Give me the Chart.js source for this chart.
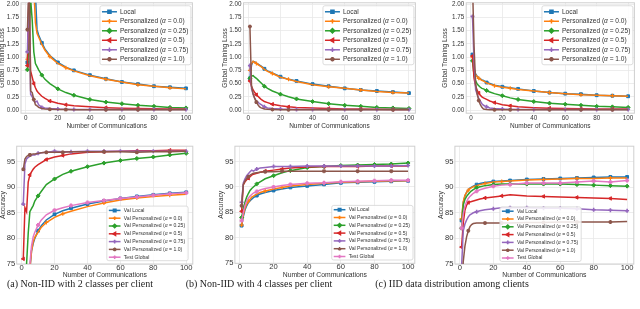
<!DOCTYPE html>
<html>
<head>
<meta charset="utf-8">
<script src="https://cdn.jsdelivr.net/npm/chart.js@4.4.0/dist/chart.umd.min.js"></script>
<style>
  body { margin: 0; background: #fff; width: 640px; height: 309px; overflow: hidden; position: relative; }
  canvas { position: absolute; }
  .cap { position: absolute; top: 278px; font-family: "Liberation Serif", "DejaVu Serif", serif; font-size: 10px; color: #222; white-space: nowrap; transform: translateX(-50%); }
</style>
</head>
<body>
<canvas id="lossA"></canvas>
<canvas id="lossB"></canvas>
<canvas id="lossC"></canvas>
<canvas id="accA"></canvas>
<canvas id="accB"></canvas>
<canvas id="accC"></canvas>
<div class="cap" style="left:80px">(a) Non-IID with 2 classes per client</div>
<div class="cap" style="left:259px">(b) Non-IID with 4 classes per client</div>
<div class="cap" style="left:452px">(c) IID data distribution among clients</div>
<script>
const commRounds = [1, 2, 3, 4, 5, 6, 7, 8, 10, 12, 15, 20, 25, 30, 40, 50, 60, 70, 80, 90, 100];

// (a) non-IID, 2 classes per client : global training loss
const lossA_local = [0.90, 1.80, 2.60, 2.60, 2.40, 2.20, 1.52, 1.42, 1.27, 1.15, 1.03, 0.90, 0.81, 0.75, 0.66, 0.59, 0.53, 0.49, 0.45, 0.43, 0.41];
const lossA_p00   = [0.96, 1.80, 2.60, 2.50, 2.30, 1.65, 1.45, 1.38, 1.24, 1.13, 1.01, 0.88, 0.80, 0.74, 0.65, 0.58, 0.53, 0.48, 0.45, 0.42, 0.40];
const lossA_p025  = [0.76, 1.30, 2.10, 1.70, 1.10, 0.88, 0.82, 0.76, 0.66, 0.58, 0.50, 0.40, 0.33, 0.28, 0.20, 0.15, 0.12, 0.09, 0.07, 0.05, 0.04];
const lossA_p05   = [0.84, 2.30, 0.74, 0.62, 0.50, 0.42, 0.36, 0.32, 0.26, 0.22, 0.17, 0.13, 0.10, 0.08, 0.06, 0.045, 0.035, 0.03, 0.025, 0.02, 0.02];
const lossA_p075  = [1.10, 2.30, 0.30, 0.25, 0.18, 0.15, 0.17, 0.10, 0.05, 0.04, 0.03, 0.02, 0.015, 0.01, 0.01, 0.01, 0.01, 0.01, 0.01, 0.01, 0.01];
const lossA_p10   = [1.52, 2.40, 0.36, 0.33, 0.20, 0.10, 0.08, 0.05, 0.03, 0.02, 0.015, 0.01, 0.008, 0.006, 0.005, 0.005, 0.005, 0.005, 0.005, 0.005, 0.005];

// (b) non-IID, 4 classes per client : global training loss
const lossB_local = [0.60, 0.85, 0.92, 0.91, 0.89, 0.87, 0.85, 0.83, 0.78, 0.74, 0.70, 0.63, 0.58, 0.55, 0.49, 0.45, 0.41, 0.38, 0.36, 0.34, 0.32];
const lossB_p00   = [0.75, 0.88, 0.92, 0.90, 0.88, 0.86, 0.84, 0.82, 0.77, 0.73, 0.69, 0.62, 0.58, 0.54, 0.48, 0.44, 0.41, 0.38, 0.35, 0.33, 0.32];
const lossB_p025  = [0.60, 0.64, 0.65, 0.62, 0.60, 0.57, 0.54, 0.51, 0.45, 0.41, 0.36, 0.30, 0.25, 0.21, 0.16, 0.12, 0.09, 0.07, 0.05, 0.04, 0.03];
const lossB_p05   = [0.55, 0.45, 0.38, 0.33, 0.29, 0.26, 0.23, 0.20, 0.16, 0.14, 0.11, 0.08, 0.06, 0.05, 0.04, 0.03, 0.02, 0.02, 0.015, 0.01, 0.01];
const lossB_p075  = [0.84, 0.40, 0.30, 0.22, 0.17, 0.15, 0.12, 0.10, 0.06, 0.04, 0.03, 0.02, 0.015, 0.01, 0.01, 0.01, 0.01, 0.01, 0.01, 0.01, 0.01];
const lossB_p10   = [1.58, 0.45, 0.30, 0.22, 0.15, 0.10, 0.06, 0.04, 0.02, 0.015, 0.01, 0.005, 0.005, 0.005, 0.005, 0.005, 0.005, 0.005, 0.005, 0.005, 0.005];

// (c) IID : global training loss
const lossC_local = [1.05, 0.78, 0.68, 0.64, 0.61, 0.59, 0.57, 0.56, 0.52, 0.50, 0.47, 0.44, 0.42, 0.40, 0.36, 0.33, 0.31, 0.30, 0.28, 0.27, 0.26];
const lossC_p00   = [1.00, 0.76, 0.67, 0.63, 0.60, 0.58, 0.56, 0.55, 0.51, 0.49, 0.46, 0.43, 0.41, 0.39, 0.36, 0.33, 0.31, 0.29, 0.28, 0.27, 0.26];
const lossC_p025  = [0.93, 0.65, 0.55, 0.49, 0.46, 0.43, 0.41, 0.40, 0.37, 0.34, 0.31, 0.27, 0.23, 0.20, 0.16, 0.13, 0.11, 0.09, 0.07, 0.06, 0.05];
const lossC_p05   = [1.02, 0.60, 0.45, 0.37, 0.32, 0.28, 0.25, 0.23, 0.20, 0.17, 0.14, 0.10, 0.08, 0.06, 0.045, 0.035, 0.03, 0.025, 0.02, 0.02, 0.02];
const lossC_p075  = [1.77, 0.90, 0.38, 0.30, 0.22, 0.17, 0.12, 0.09, 0.06, 0.04, 0.03, 0.02, 0.015, 0.01, 0.01, 0.01, 0.01, 0.01, 0.01, 0.01, 0.01];
const lossC_p10   = [2.40, 1.20, 0.50, 0.30, 0.18, 0.10, 0.05, 0.02, 0.01, 0.005, 0.005, 0.005, 0.005, 0.005, 0.005, 0.005, 0.005, 0.005, 0.005, 0.005, 0.005];

// (a) accuracy
const accA_local  = [65, 68, 70, 72, 74, 77.5, 79, 80, 81.5, 82.5, 83.6, 84.7, 85.4, 85.9, 86.7, 87.3, 87.8, 88.2, 88.5, 88.8, 89.0];
const accA_p00    = [65, 68, 70, 72, 74, 77.5, 79.3, 80.2, 81.2, 82.2, 83.1, 84.1, 84.8, 85.3, 86.2, 86.9, 87.5, 87.9, 88.2, 88.4, 88.6];
const accA_p025   = [70, 72, 75, 81, 85.2, 85.8, 86.4, 87.3, 88.3, 89.2, 90.5, 91.6, 92.5, 93.1, 94.0, 94.7, 95.2, 95.6, 95.9, 96.3, 96.6];
const accA_p05    = [76, 86, 85.2, 91, 92.4, 93, 93.5, 93.9, 94.4, 94.8, 95.4, 95.9, 96.2, 96.5, 96.8, 96.9, 97.0, 97.1, 97.1, 97.2, 97.2];
const accA_p075   = [86.7, 94.5, 95.5, 95.8, 96, 96.2, 96.3, 96.3, 96.6, 96.7, 96.8, 97.0, 96.9, 96.9, 97.0, 97.0, 97.0, 97.0, 97.0, 97.0, 97.0];
const accA_p10    = [93.5, 95.5, 96, 96.2, 96.3, 96.4, 96.5, 96.5, 96.6, 96.7, 96.8, 96.8, 96.8, 96.9, 96.9, 96.9, 96.9, 96.8, 96.9, 96.9, 97.0];
const accA_test   = [65, 68, 70, 72.5, 75, 78.5, 80.3, 81.2, 82.6, 83.6, 84.6, 85.5, 86.0, 86.4, 87.0, 87.4, 87.8, 88.1, 88.4, 88.7, 88.9];

// (b) accuracy
const accB_local  = [82.4, 84.2, 85.5, 86.3, 86.9, 87.3, 87.6, 87.9, 88.3, 88.6, 88.9, 89.3, 89.6, 89.9, 90.2, 90.5, 90.8, 90.9, 91.0, 91.1, 91.2];
const accB_p00    = [82.5, 84.5, 85.8, 86.6, 87.2, 87.6, 88.0, 88.2, 88.6, 88.9, 89.2, 89.6, 89.9, 90.2, 90.5, 90.7, 90.9, 91.0, 91.1, 91.2, 91.2];
const accB_p025   = [84, 85.8, 87, 88, 88.7, 89.3, 89.7, 90, 90.6, 91, 91.6, 92.2, 92.8, 93.2, 93.8, 94.0, 94.2, 94.3, 94.4, 94.5, 94.7];
const accB_p05    = [85.2, 90.4, 91, 91.4, 91.7, 92, 92.3, 92.5, 92.7, 92.9, 93.1, 93.3, 93.5, 93.7, 93.9, 94.0, 94.0, 94.0, 94.1, 94.1, 94.1];
const accB_p075   = [87, 90.8, 91.6, 92.2, 92.6, 93, 93.3, 93.1, 93.5, 93.7, 93.8, 94.0, 94.0, 94.0, 94.1, 94.1, 94.1, 94.1, 94.1, 94.1, 94.2];
const accB_p10    = [86.3, 90.5, 91.2, 91.7, 92, 92.3, 92.5, 92.7, 92.8, 92.9, 93.0, 93.0, 93.1, 93.1, 93.1, 93.1, 93.1, 93.1, 93.1, 93.1, 93.1];
const accB_test   = [83.4, 85, 86.3, 87.2, 87.8, 88.2, 88.5, 88.8, 89.1, 89.4, 89.7, 90.0, 90.3, 90.5, 90.7, 90.8, 91.0, 91.1, 91.2, 91.3, 91.3];

// (c) accuracy
const accC_local  = [83.5, 87, 88.3, 89, 89.5, 89.8, 90, 90.2, 90.5, 90.7, 90.9, 91.1, 91.2, 91.3, 91.5, 91.6, 91.7, 91.8, 91.9, 92.0, 92.0];
const accC_p00    = [83.8, 87.2, 88.4, 89, 89.4, 89.7, 89.9, 90.1, 90.3, 90.5, 90.7, 91.0, 91.1, 91.2, 91.4, 91.5, 91.6, 91.7, 91.7, 91.8, 91.8];
const accC_p025   = [82, 86.5, 87.6, 88.2, 88.6, 89, 89.3, 89.5, 89.9, 90.1, 90.3, 90.5, 90.6, 90.6, 90.6, 90.6, 90.6, 90.5, 90.4, 90.3, 90.2];
const accC_p05    = [78.3, 83, 85.5, 86.5, 87, 87.1, 87.2, 87.3, 87.5, 87.7, 87.9, 88.1, 88.3, 88.5, 88.3, 88.2, 88.1, 88.0, 87.9, 87.8, 87.6];
const accC_p075   = [74.5, 81.5, 82.8, 83.6, 84.2, 84.6, 84.8, 85, 85.2, 85.4, 85.6, 85.8, 86.0, 86.0, 86.0, 85.9, 85.9, 85.8, 85.6, 85.5, 85.4];
const accC_p10    = [70, 75.5, 78.5, 80.3, 81.5, 82.3, 82.7, 82.9, 83, 83, 83, 83, 83, 83, 83.1, 83.1, 83.2, 83.2, 83.2, 83.2, 83.3];
const accC_test   = [82, 84.8, 86.3, 87.2, 87.8, 88.2, 88.5, 88.8, 89.2, 89.5, 89.8, 90.2, 90.4, 90.5, 90.8, 90.8, 90.8, 91.0, 91.2, 91.0, 91.3];

const lossLabels = ['Local', 'Personalized (α = 0.0)', 'Personalized (α = 0.25)', 'Personalized (α = 0.5)', 'Personalized (α = 0.75)', 'Personalized (α = 1.0)'];
const accLabels = ['Val Local', 'Val Personalized (α = 0.0)', 'Val Personalized (α = 0.25)', 'Val Personalized (α = 0.5)', 'Val Personalized (α = 0.75)', 'Val Personalized (α = 1.0)', 'Test Global'];
const roundTicks = [0, 20, 40, 60, 80, 100];
const lossTicks = [0, 0.25, 0.5, 0.75, 1.0, 1.25, 1.5, 1.75, 2.0];
const accTicks = [75, 80, 85, 90, 95];

const palette = ['#1f77b4', '#ff7f0e', '#2ca02c', '#d62728', '#9467bd', '#8c564b', '#e377c2'];
const markers = ['rect', 'cross', 'rectRot', 'triangle', 'cross', 'star', 'cross'];
const markerRot = [0, 0, 0, -90, 0, 0, 0];
const markerBw = [1, 1.2, 1, 1, 1.6, 1.1, 2.2];
const markIdxA = [0, 8, 11, 13, 14, 15, 16, 17, 18, 19, 20];
const markIdxB = [0, 4, 10, 12, 15, 17, 19];

const FONT = '"Liberation Sans", Arial, sans-serif';
Chart.defaults.font.family = FONT;
Chart.defaults.color = '#333';

function labelParts(label) {
  const i = label.indexOf('α');
  if (i < 0) return [[label, false]];
  return [[label.slice(0, i), false], ['α', true], [label.slice(i + 1), false]];
}

function partFont(size, italic) {
  return (italic ? 'italic ' : '') + size + 'px ' + FONT;
}

const frameBox = {
  id: 'frameBox',
  beforeDatasetsDraw(chart) {
    const { ctx, chartArea: a } = chart;
    ctx.save();
    ctx.strokeStyle = '#cfcfcf';
    ctx.lineWidth = 1;
    ctx.strokeRect(a.left, a.top, a.right - a.left, a.bottom - a.top);
    ctx.restore();
  }
};

const boxLegend = {
  id: 'boxLegend',
  afterDraw(chart, args, o) {
    const { ctx, chartArea: a } = chart;
    const items = chart.data.datasets;
    ctx.save();
    let textW = 0;
    items.forEach(d => {
      let w = 0;
      labelParts(d.label).forEach(([t, it]) => { ctx.font = partFont(o.fontSize, it); w += ctx.measureText(t).width; });
      textW = Math.max(textW, w);
    });
    const w = o.padL + o.lineLen + o.gap + textW + o.padR;
    const h = o.padT + (items.length - 1) * o.rowH + o.padB;
    const x = o.left != null ? a.left + o.left : a.right - o.right - w;
    const y = o.top != null ? a.top + o.top : a.bottom - o.bottom - h;
    ctx.fillStyle = 'rgba(255,255,255,0.85)';
    ctx.strokeStyle = '#d4d4d4';
    ctx.lineWidth = 0.8;
    ctx.beginPath();
    ctx.roundRect(x, y, w, h, 2);
    ctx.fill();
    ctx.stroke();
    items.forEach((d, i) => {
      const cy = y + o.padT + i * o.rowH;
      const x0 = x + o.padL;
      ctx.strokeStyle = d.borderColor;
      ctx.fillStyle = d.borderColor;
      ctx.lineWidth = 1.5;
      ctx.beginPath();
      ctx.moveTo(x0, cy);
      ctx.lineTo(x0 + o.lineLen, cy);
      ctx.stroke();
      Chart.helpers.drawPoint(ctx, { pointStyle: d.pointStyle, rotation: d.pointRotation, radius: o.markR, borderWidth: d.pointBorderWidth }, x0 + o.lineLen / 2, cy);
      let tx = x0 + o.lineLen + o.gap;
      ctx.fillStyle = '#333';
      ctx.textBaseline = 'middle';
      labelParts(d.label).forEach(([t, it]) => {
        ctx.font = partFont(o.fontSize, it);
        ctx.fillText(t, tx, cy);
        tx += ctx.measureText(t).width;
      });
    });
    ctx.restore();
  }
};

function makeSeries(valueLists, labels) {
  return valueLists.map((vals, i) => ({
    label: labels[i],
    data: commRounds.map((r, k) => ({ x: r, y: vals[k] })),
    borderColor: palette[i],
    backgroundColor: palette[i],
    borderWidth: 1.5,
    pointStyle: markers[i],
    pointRotation: markerRot[i],
    pointBorderWidth: markerBw[i],
    pointRadius: c => ((i % 2 ? markIdxB : markIdxA).includes(c.dataIndex) ? 2 : 0),
    tension: 0,
    order: labels.length - i
  }));
}

// p: page geometry of the plot frame; canvas left/top (cl, ct) are whole pixels
function makePanel(id, p, valueLists, labels, yTicks, yMin, yMax, yTitle, fmt, legend) {
  const cv = document.getElementById(id);
  const cw = p.cr - p.cl, ch = p.cb - p.ct;
  cv.width = cw; cv.height = ch;
  cv.style.left = p.cl + 'px';
  cv.style.top = p.ct + 'px';
  const yW = p.L - p.cl, xH = p.cb - p.B;
  new Chart(cv, {
    type: 'line',
    data: { datasets: makeSeries(valueLists, labels) },
    options: {
      responsive: false,
      animation: false,
      events: [],
      layout: { padding: { left: 0, top: p.T - p.ct, right: p.cr - p.R, bottom: 0 } },
      plugins: { legend: { display: false }, tooltip: { enabled: false }, boxLegend: legend },
      scales: {
        x: {
          type: 'linear', min: -3, max: 104,
          afterBuildTicks: s => { s.ticks = roundTicks.map(v => ({ value: v })); },
          afterFit: s => { s.height = xH; },
          ticks: { font: { size: p.tickSize }, padding: p.xPad, maxRotation: 0, color: '#333' },
          grid: { color: '#e9e9e9', lineWidth: 0.8, drawTicks: false },
          border: { display: false },
          title: { display: true, text: 'Number of Communications', font: { size: p.titleSize }, padding: { top: 0, bottom: 0 }, color: '#333' }
        },
        y: {
          type: 'linear', min: yMin, max: yMax,
          afterBuildTicks: s => { s.ticks = yTicks.map(v => ({ value: v })); },
          afterFit: s => { s.width = yW; },
          ticks: { font: { size: p.tickSize }, padding: p.yPad, callback: fmt, color: '#333' },
          grid: { color: '#e9e9e9', lineWidth: 0.8, drawTicks: false },
          border: { display: false },
          title: { display: true, text: yTitle, font: { size: p.titleSize }, padding: { top: 0, bottom: 0 }, color: '#333' }
        }
      }
    },
    plugins: [frameBox, boxLegend]
  });
}

const lossLegend = { fontSize: 6.6, padL: 2, lineLen: 15, gap: 3, padR: 2.5, padT: 6, rowH: 9.5, padB: 5.5, markR: 2.2, right: 1.5, top: 3 };
const fmtLoss = v => v.toFixed(2);
const fmtAcc = v => String(v);
const topRow = { ct: -3, cb: 130, T: 1, B: 113.2, xPad: 1, yPad: 2, tickSize: 6.3, titleSize: 6.5 };
const bottomRow = { ct: 140, cb: 279, xPad: -1, yPad: 1.5, tickSize: 7.6, titleSize: 6.8 };

makePanel('lossA', Object.assign({ cl: -2, cr: 198, L: 21, R: 194 }, topRow),
  [lossA_local, lossA_p00, lossA_p025, lossA_p05, lossA_p075, lossA_p10], lossLabels, lossTicks, -0.06, 2.028, 'Global Training Loss', fmtLoss, lossLegend);
makePanel('lossB', Object.assign({ cl: 221, cr: 421, L: 243.5, R: 416.5 }, topRow),
  [lossB_local, lossB_p00, lossB_p025, lossB_p05, lossB_p075, lossB_p10], lossLabels, lossTicks, -0.06, 2.028, 'Global Training Loss', fmtLoss, lossLegend);
makePanel('lossC', Object.assign({ cl: 441, cr: 640, L: 466.2, R: 638.2 }, topRow),
  [lossC_local, lossC_p00, lossC_p025, lossC_p05, lossC_p075, lossC_p10], lossLabels, lossTicks, -0.06, 2.028, 'Global Training Loss', fmtLoss, lossLegend);

const accLegend = { fontSize: 5.1, padL: 2, lineLen: 11.7, gap: 3.3, padR: 3, padT: 4.3, rowH: 7.8, padB: 3.5, markR: 1.8 };
makePanel('accA', Object.assign({ cl: -1, cr: 199, L: 16.7, R: 195.7, T: 144.5, B: 264 }, bottomRow),
  [accA_local, accA_p00, accA_p025, accA_p05, accA_p075, accA_p10, accA_test], accLabels, accTicks, 75, 98, 'Accuracy', fmtAcc,
  Object.assign({}, accLegend, { right: 4.7, bottom: 3.3 }));
makePanel('accB', Object.assign({ cl: 217, cr: 421, L: 234.9, R: 416.8, T: 143.4, B: 263.3 }, bottomRow),
  [accB_local, accB_p00, accB_p025, accB_p05, accB_p075, accB_p10, accB_test], accLabels, accTicks, 75, 98, 'Accuracy', fmtAcc,
  Object.assign({}, accLegend, { right: 1.8, bottom: 3.3 }));
makePanel('accC', Object.assign({ cl: 437, cr: 640, L: 454.9, R: 637.9, T: 143.3, B: 264 }, bottomRow),
  [accC_local, accC_p00, accC_p025, accC_p05, accC_p075, accC_p10, accC_test], accLabels, accTicks, 75, 98, 'Accuracy', fmtAcc,
  Object.assign({}, accLegend, { left: 45, bottom: 2.5 }));
</script>
</body>
</html>
